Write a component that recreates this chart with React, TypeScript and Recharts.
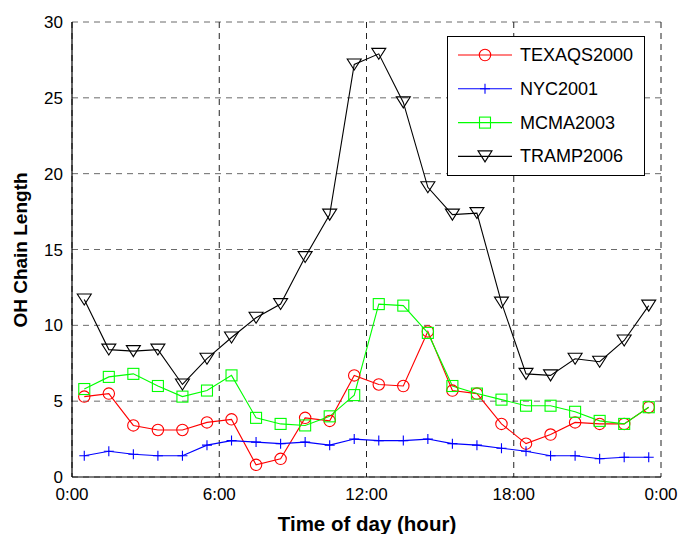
import React from 'react';
import { LineChart, Line, XAxis, YAxis, CartesianGrid, Legend } from 'recharts';

// Hour of day at the centre of each hourly bin
const hours = [0.5, 1.5, 2.5, 3.5, 4.5, 5.5, 6.5, 7.5, 8.5, 9.5, 10.5, 11.5, 12.5, 13.5, 14.5, 15.5, 16.5, 17.5, 18.5, 19.5, 20.5, 21.5, 22.5, 23.5];

// OH chain length per campaign
const texaqs2000 = [5.3, 5.5, 3.4, 3.1, 3.1, 3.6, 3.8, 0.8, 1.2, 3.9, 3.7, 6.7, 6.1, 6.0, 9.6, 5.7, 5.5, 3.5, 2.2, 2.8, 3.6, 3.5, 3.5, 4.6];
const nyc2001 = [1.4, 1.7, 1.5, 1.4, 1.4, 2.1, 2.4, 2.3, 2.2, 2.3, 2.1, 2.5, 2.4, 2.4, 2.5, 2.2, 2.1, 1.9, 1.7, 1.4, 1.4, 1.2, 1.3, 1.3];
const mcma2003 = [5.8, 6.6, 6.8, 6.0, 5.3, 5.7, 6.7, 3.9, 3.5, 3.4, 4.0, 5.4, 11.4, 11.3, 9.5, 6.0, 5.5, 5.1, 4.7, 4.7, 4.3, 3.7, 3.5, 4.6];
const tramp2006 = [11.7, 8.4, 8.3, 8.4, 6.1, 7.8, 9.2, 10.5, 11.4, 14.5, 17.3, 27.2, 27.9, 24.7, 19.1, 17.3, 17.4, 11.5, 6.8, 6.7, 7.8, 7.6, 9.0, 11.3];

const xTicks = [0, 6, 12, 18, 24];
const yTicks = [0, 5, 10, 15, 20, 25, 30];

const data = hours.map((h, i) => ({
  hour: h,
  TEXAQS2000: texaqs2000[i],
  NYC2001: nyc2001[i],
  MCMA2003: mcma2003[i],
  TRAMP2006: tramp2006[i],
}));

type Kind = 'circle' | 'plus' | 'square' | 'triangle';

const series: { key: string; color: string; kind: Kind }[] = [
  { key: 'TEXAQS2000', color: '#ff0000', kind: 'circle' },
  { key: 'NYC2001', color: '#0000ff', kind: 'plus' },
  { key: 'MCMA2003', color: '#00ff00', kind: 'square' },
  { key: 'TRAMP2006', color: '#000000', kind: 'triangle' },
];

const FONT = '"Liberation Sans", Arial, sans-serif';

function Marker({ kind, cx, cy, color }: { kind: Kind; cx: number; cy: number; color: string }) {
  if (cx == null || cy == null || isNaN(cx) || isNaN(cy)) return null;
  const sw = 1.1;
  switch (kind) {
    case 'circle':
      return <circle cx={cx} cy={cy} r={5.7} fill="none" stroke={color} strokeWidth={sw} />;
    case 'plus':
      return (
        <path
          d={`M${cx - 5},${cy}H${cx + 5}M${cx},${cy - 5}V${cy + 5}`}
          fill="none"
          stroke={color}
          strokeWidth={sw}
        />
      );
    case 'square':
      return <rect x={cx - 5.5} y={cy - 5.5} width={11} height={11} fill="none" stroke={color} strokeWidth={sw} />;
    case 'triangle':
      return (
        <path
          d={`M${cx - 7},${cy - 5.5}L${cx + 7},${cy - 5.5}L${cx},${cy + 5.5}Z`}
          fill="none"
          stroke={color}
          strokeWidth={sw}
        />
      );
  }
  return null;
}

// Legend box listing the series in plotting order
function LegendBox(props: any) {
  const payload: any[] = props.payload || [];
  const entries = series.map((s) => {
    const p = payload.find((e) => e.dataKey === s.key);
    return { ...s, label: p ? p.value : s.key };
  });
  return (
    <div
      style={{
        width: 198,
        height: 140,
        border: '1px solid #000',
        background: '#fff',
        boxSizing: 'border-box',
      }}
    >
      <svg width={196} height={138} style={{ display: 'block' }}>
        {entries.map((s, i) => {
          const y = 18 + i * 33.8;
          return (
            <g key={s.key}>
              <line x1={10} x2={64} y1={y} y2={y} stroke={s.color} strokeWidth={1.1} />
              <Marker kind={s.kind} cx={37} cy={y} color={s.color} />
              <text
                x={72}
                y={y}
                dominantBaseline="central"
                fontFamily={FONT}
                fontSize={18}
                fill="#000"
              >
                {s.label}
              </text>
            </g>
          );
        })}
      </svg>
    </div>
  );
}

const tickStyle = { fontFamily: FONT, fontSize: 17, fill: '#000' };

export default function App() {
  return (
    <div style={{ position: 'absolute', left: 0, top: 0, width: 681, height: 534, background: '#fff' }}>
      <LineChart width={681} height={534} data={data} margin={{ top: 22, right: 20, bottom: 0, left: 0 }}>
        <CartesianGrid vertical={false} stroke="#6a6a6a" strokeDasharray="6 5" />
        <CartesianGrid horizontal={false} stroke="#222" strokeDasharray="6 5" />
        <XAxis
          dataKey="hour"
          type="number"
          domain={[0, 24]}
          ticks={xTicks}
          tickFormatter={(h: number) => `${h % 24}:00`}
          height={57}
          tickLine={false}
          tickSize={0}
          tickMargin={11}
          axisLine={{ stroke: '#000', strokeWidth: 1.2 }}
          tick={tickStyle}
          interval={0}
        />
        <XAxis
          xAxisId="top"
          orientation="top"
          type="number"
          domain={[0, 24]}
          height={0}
          tick={false}
          tickLine={false}
          axisLine={{ stroke: '#000', strokeWidth: 1.2 }}
        />
        <YAxis
          type="number"
          domain={[0, 30]}
          ticks={yTicks}
          width={72}
          tickLine={false}
          tickSize={0}
          tickMargin={9}
          axisLine={{ stroke: '#000', strokeWidth: 1.2 }}
          tick={tickStyle}
          interval={0}
        />
        <YAxis
          yAxisId="right"
          orientation="right"
          type="number"
          domain={[0, 30]}
          width={0}
          tick={false}
          tickLine={false}
          axisLine={{ stroke: '#000', strokeWidth: 1.2 }}
        />
        {series.map((s) => (
          <Line
            key={s.key}
            dataKey={s.key}
            stroke={s.color}
            strokeWidth={1.1}
            isAnimationActive={false}
            dot={(p: any) => <Marker key={`${s.key}-${p.index}`} kind={s.kind} cx={p.cx} cy={p.cy} color={s.color} />}
            activeDot={false}
          />
        ))}
        <Legend
          layout="vertical"
          align="center"
          verticalAlign="middle"
          content={<LegendBox />}
          wrapperStyle={{ left: 447, top: 36, width: 198, height: 140 }}
        />
      </LineChart>
      <div
        style={{
          position: 'absolute',
          left: 367,
          top: 524,
          transform: 'translate(-50%, -50%)',
          fontFamily: FONT,
          fontWeight: 'bold',
          fontSize: 20.5,
          whiteSpace: 'nowrap',
          color: '#000',
        }}
      >
        Time of day (hour)
      </div>
      <div
        style={{
          position: 'absolute',
          left: 21,
          top: 250,
          transform: 'translate(-50%, -50%) rotate(-90deg)',
          fontFamily: FONT,
          fontWeight: 'bold',
          fontSize: 19,
          whiteSpace: 'nowrap',
          color: '#000',
        }}
      >
        OH Chain Length
      </div>
    </div>
  );
}
